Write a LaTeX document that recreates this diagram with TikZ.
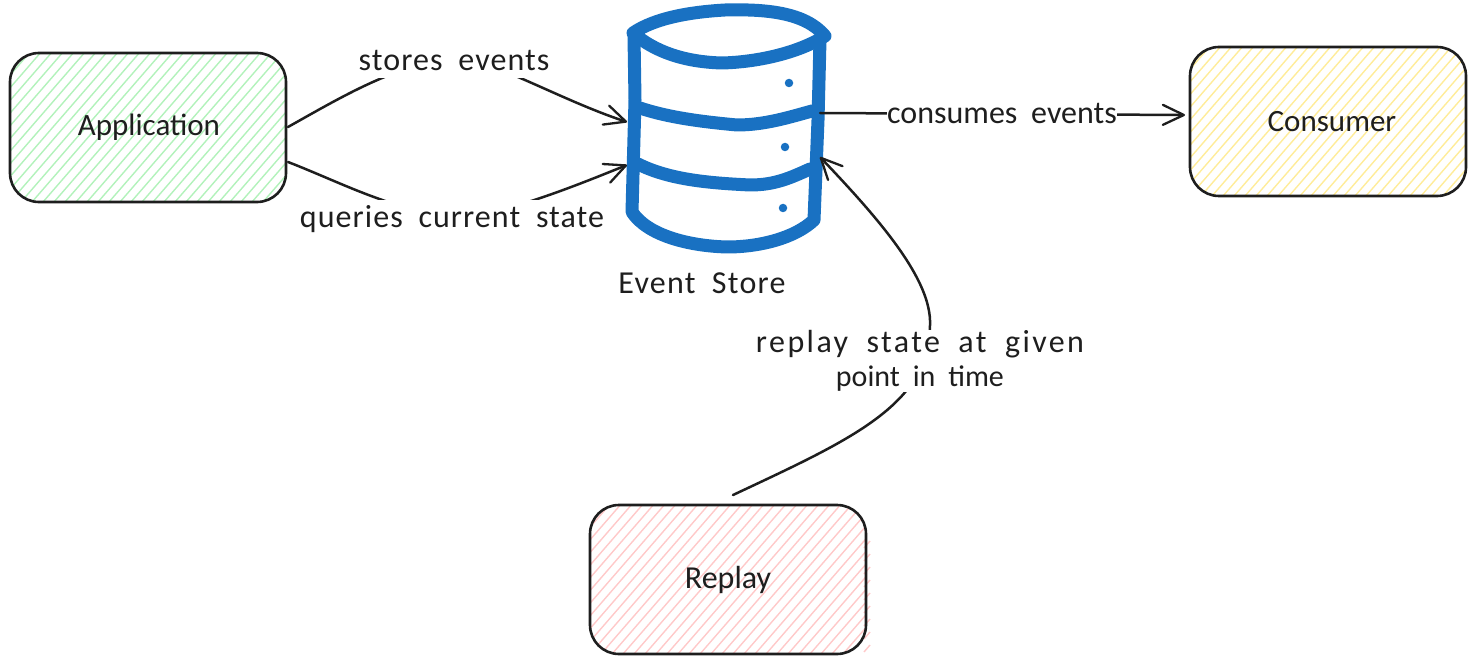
\documentclass[tikz,border=0pt]{standalone}
\usepackage{fontspec}
\setmainfont[WordSpace=1.9]{Carlito}
\usetikzlibrary{arrows.meta,calc}
\definecolor{ink}{HTML}{1E1E1E}
\definecolor{dbblue}{HTML}{1971C2}
\definecolor{hgreen}{HTML}{B2F2BB}
\definecolor{hyellow}{HTML}{FFEC99}
\definecolor{hpink}{HTML}{FFC9C9}
\newcommand{\txtfont}[2]{\fontsize{#1}{34}\selectfont\addfontfeatures{LetterSpace=#2}}
\tikzset{
  hatchfill/.style={path picture={
    \foreach \i in {-12,...,26}
      \draw[#1,line width=1.4pt]
        ($(path picture bounding box.south west)+(\i*11,0)$) -- ++(131,-151);
  }},
  sketchbox/.style={draw=ink,line width=2.6pt,rounded corners=29pt,
    minimum width=276pt,minimum height=149pt,inner sep=0pt,text=ink,
    hatchfill=#1},
  conn/.style={draw=ink,line width=2.5pt,line cap=round,
    -{Straight Barb[length=21pt,width=20pt,line width=2.3pt,round]}},
  lbl/.style={fill=white,text=ink,inner sep=0pt,align=center},
  dbline/.style={draw=dbblue,line width=13pt,line cap=round,line join=round},
  dbdot/.style={fill=dbblue,draw=none,circle,minimum size=8.5pt,inner sep=0pt},
}
\begin{document}
\begin{tikzpicture}[x=1pt,y=-1pt]
\useasboundingbox (0,0) rectangle (1476,663);

% hatch strokes that overrun the Replay box
\foreach \yy in {548,561,...,652}
  \draw[hpink,line width=1.4pt] (864,\yy) -- (870,\yy-7);

% boxes
\node[sketchbox=hgreen,font=\txtfont{31}{0}] (app) at (148,127.5) {\raisebox{-2pt}{\hspace{2pt}Application}};
\node[sketchbox=hyellow,font=\txtfont{31}{0}] (cons) at (1328,121.5) {\hspace{8pt}Consumer};
\node[sketchbox=hpink,font=\txtfont{32}{0}] (replay) at (728,579.5) {Replay};

% event store
\node[minimum width=190pt,minimum height=240pt,inner sep=0pt] (store) at (726,130) {};
\draw[dbline] (633,33) .. controls (655,18) and (690,12) .. (725,10)
  .. controls (765,9) and (805,12) .. (825,36)
  .. controls (800,52) and (760,62) .. (722,63)
  .. controls (685,62) and (655,52) .. (633,33) -- cycle;
\draw[dbline] (634,36) -- (635,100) -- (632,212)
  .. controls (648,236) and (690,246) .. (727,247)
  .. controls (760,247) and (795,238) .. (814,220)
  -- (818,120) -- (820,40);
\draw[dbline] (640,108) .. controls (670,118) and (705,122) .. (737,125)
  .. controls (765,125) and (790,117) .. (812,111);
\draw[dbline] (638,164) .. controls (670,180) and (710,183) .. (750,185)
  .. controls (775,185) and (790,178) .. (810,169);
\node[dbdot] (d1) at (789,83) {};
\node[dbdot] (d2) at (785,147) {};
\node[dbdot] (d3) at (783,208) {};
\node[text=ink,font=\txtfont{32}{4}] (storelbl) at (702,283) {Event Store};

% connector ends
\coordinate (a1) at (288,127);
\coordinate (a2) at (288,162);
\coordinate (s1) at (627,122);
\coordinate (s2) at (627,165);
\coordinate (s3) at (820,113);
\coordinate (s4) at (820,157);
\coordinate (c1) at (1185,115);
\coordinate (r1) at (733,495);

% connectors
\draw[conn] (a1) .. controls (345,95) and (395,65) .. (455,58)
  .. controls (490,58) and (560,100) .. (s1);
\draw[conn] (a2) .. controls (340,182) and (395,212) .. (455,216)
  .. controls (500,216) and (565,190) .. (s2);
\draw[conn] (s3) -- (c1);
\draw[conn] (r1) .. controls (850,440) and (930,405) .. (930,325)
  .. controls (932,280) and (880,220) .. (s4);

% labels
\node[lbl,font=\txtfont{32}{3.4},minimum height=36pt] (l1) at (454,60.5) {stores events};
\node[lbl,font=\txtfont{32}{3.3},minimum height=38pt] (l2) at (452,219) {queries current state};
\node[lbl,font=\txtfont{32}{0}] (l3) at (1002,114) {consumes events};
\node[lbl,font=\txtfont{32}{7.6}] (l4) at (920,361) {replay state at given\\{\txtfont{30}{0}point in time}};
\end{tikzpicture}
\end{document}
